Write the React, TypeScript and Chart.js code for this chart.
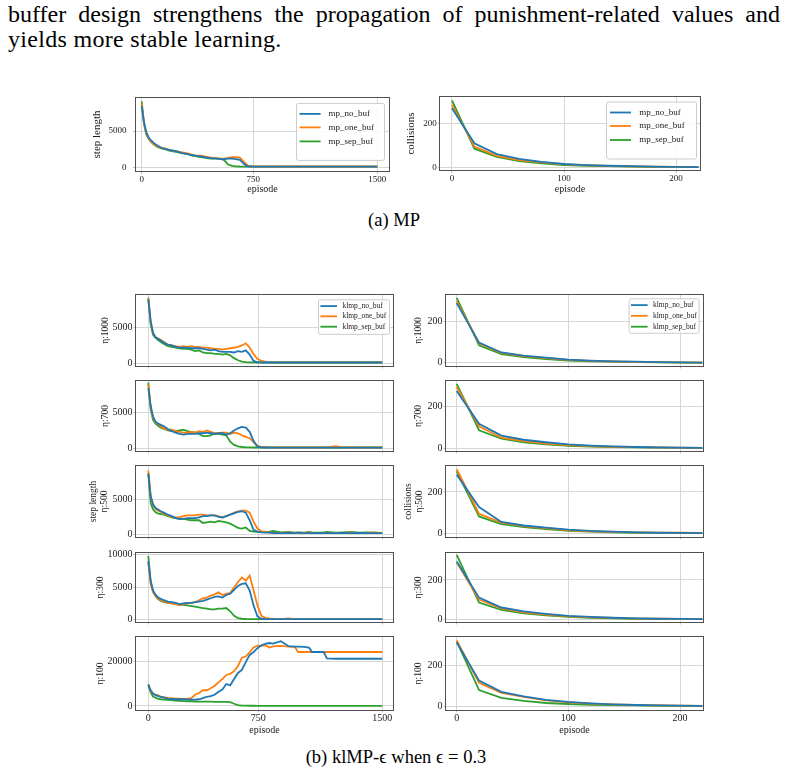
import React, { useEffect, useRef } from "react";
import { Chart, registerables } from "chart.js";
Chart.register(...registerables);

const SERIF = '"Liberation Serif", "Times New Roman", serif';
const COLORS = ["#1f77b4", "#ff7f0e", "#2ca02c"];
const GRID = "#d6d6d6";
const TICKC = "#c0c0c0";
const FRAME = "#505050";
const TXT = "#1a1a1a";

// ---------- data ----------
const EPISODES = [0, 15, 30, 45, 60, 80, 100, 125, 150, 175, 200, 225, 250, 275, 300, 325, 350, 375, 400, 425, 450, 475, 500, 525, 550, 575, 600, 625, 650, 675, 700, 725, 750, 775, 800, 850, 900, 940, 960, 1000, 1030, 1050, 1100, 1125, 1145, 1200, 1250, 1300, 1350, 1400, 1450, 1500];
const EPISODES_COLL = [0, 20, 40, 60, 80, 100, 120, 140, 160, 180, 200, 220];
const STEP_TICKS_A = [0, 710, 1500];
const STEP_TICKS_B = [0, 705, 1500];
const STEP_TICK_LABELS = ["0", "750", "1500"];
const COLL_TICKS = [0, 100, 200];
const COLL_TICK_LABELS = ["0", "100", "200"];
const MP_LABELS = ["mp_no_buf", "mp_one_buf", "mp_sep_buf"];
const KLMP_LABELS = ["klmp_no_buf", "klmp_one_buf", "klmp_sep_buf"];

const MP_NO_STEP = [8500, 6200, 4800, 4100, 3700, 3300, 3000, 2700, 2500, 2400, 2300, 2200, 2000, 1900, 1800, 1700, 1600, 1500, 1400, 1300, 1250, 1250, 1150, 1150, 1200, 1200, 1150, 1050, 500, 150, 120, 110, 110, 110, 110, 110, 110, 110, 110, 110, 110, 110, 110, 110, 110, 110, 110, 110, 110, 110, 110, 110];
const MP_ONE_STEP = [8800, 6000, 4600, 4000, 3500, 3100, 2900, 2700, 2600, 2400, 2300, 2200, 2100, 2000, 1900, 1700, 1600, 1600, 1500, 1400, 1300, 1250, 1200, 1200, 1300, 1400, 1400, 1350, 800, 250, 150, 130, 120, 120, 120, 120, 120, 120, 120, 120, 120, 120, 120, 120, 120, 120, 120, 120, 120, 120, 120, 120];
const MP_SEP_STEP = [9100, 6000, 4500, 3900, 3500, 3100, 2800, 2600, 2500, 2300, 2200, 2100, 2000, 1900, 1800, 1600, 1500, 1400, 1350, 1250, 1200, 1200, 1200, 1000, 400, 200, 150, 120, 110, 110, 100, 100, 100, 100, 100, 100, 100, 100, 100, 100, 100, 100, 100, 100, 100, 100, 100, 100, 100, 100, 100, 100];
const MP_NO_COLL = [270, 110, 60, 38, 25, 15, 10, 7, 5, 3, 2, 1];
const MP_ONE_COLL = [285, 95, 52, 33, 22, 13, 9, 6, 4, 3, 2, 1];
const MP_SEP_COLL = [305, 85, 48, 28, 18, 10, 7, 5, 3, 2, 1, 1];

const K1000_NO = [9000, 6000, 4300, 3700, 3500, 3200, 2900, 2600, 2500, 2300, 2200, 2200, 2200, 2100, 2100, 2100, 2000, 1900, 1800, 1900, 1700, 1600, 1600, 1600, 1500, 1700, 1600, 1800, 1200, 300, 110, 90, 80, 80, 80, 80, 80, 80, 80, 80, 80, 80, 80, 80, 80, 80, 80, 80, 80, 80, 80, 80];
const K1000_ONE = [9200, 5800, 4200, 3700, 3500, 3300, 3000, 2600, 2500, 2400, 2300, 2400, 2300, 2400, 2300, 2300, 2200, 2200, 2100, 2000, 2000, 1900, 2000, 2100, 2200, 2300, 2500, 2800, 2200, 1260, 560, 330, 180, 120, 100, 90, 90, 90, 90, 90, 90, 90, 90, 90, 90, 90, 90, 90, 90, 90, 90, 90];
const K1000_SEP = [9300, 5500, 4000, 3600, 3300, 3000, 2700, 2400, 2300, 2200, 2100, 2000, 2000, 1900, 1700, 1800, 1500, 1400, 1400, 1300, 1300, 1200, 1300, 1100, 700, 400, 200, 120, 100, 90, 80, 80, 80, 80, 80, 80, 80, 80, 80, 80, 80, 80, 80, 80, 80, 80, 80, 80, 80, 80, 80, 80];

const K700_NO = [8500, 6000, 4500, 3800, 3500, 3300, 3100, 2700, 2400, 2200, 2000, 1900, 2000, 2000, 2000, 2100, 2100, 2200, 2100, 2000, 2100, 2100, 1900, 2100, 2500, 2800, 3000, 2900, 2300, 1000, 200, 100, 80, 70, 70, 70, 70, 70, 70, 70, 70, 70, 70, 70, 70, 70, 70, 70, 70, 70, 70, 70];
const K700_ONE = [9000, 5800, 4300, 3700, 3400, 3100, 2800, 2600, 2600, 2400, 2300, 2200, 2200, 2300, 2200, 2400, 2300, 2500, 2300, 2100, 2100, 2200, 2200, 2000, 2200, 2100, 1800, 1600, 1400, 800, 300, 150, 100, 90, 80, 80, 80, 80, 80, 80, 80, 80, 80, 80, 80, 250, 80, 80, 80, 80, 80, 80];
const K700_SEP = [9300, 5500, 4000, 3500, 3200, 2900, 2700, 2500, 2400, 2400, 2500, 2600, 2400, 2300, 2200, 2000, 1700, 1700, 1800, 2100, 2000, 1900, 1800, 900, 450, 250, 150, 100, 90, 80, 80, 80, 80, 80, 80, 80, 80, 80, 80, 80, 80, 80, 80, 80, 80, 80, 80, 80, 80, 80, 80, 80];

const K500_NO = [8800, 5500, 4300, 3800, 3600, 3300, 3100, 2800, 2600, 2300, 2200, 2200, 2300, 2300, 2300, 2400, 2600, 2600, 2700, 2700, 2500, 2400, 2600, 2800, 3000, 3200, 3300, 3100, 2000, 600, 350, 250, 200, 200, 150, 120, 150, 120, 200, 120, 130, 120, 150, 120, 130, 120, 150, 120, 180, 120, 130, 120];
const K500_ONE = [9200, 5500, 4200, 3700, 3400, 3200, 3000, 2700, 2500, 2400, 2400, 2600, 2700, 2700, 2700, 2800, 2800, 2700, 2700, 2700, 2600, 2400, 2600, 2800, 3100, 3300, 3400, 3400, 3100, 1800, 800, 400, 300, 250, 200, 150, 250, 120, 150, 120, 250, 120, 120, 150, 120, 150, 120, 250, 120, 150, 250, 120];
const K500_SEP = [8700, 4500, 3600, 3200, 3000, 2900, 2800, 2600, 2400, 2300, 2200, 2200, 2100, 2000, 2000, 2000, 1600, 1700, 1800, 1700, 1900, 1800, 1700, 1500, 1200, 900, 800, 950, 450, 350, 300, 300, 280, 350, 450, 250, 300, 200, 250, 200, 300, 250, 200, 250, 300, 200, 250, 300, 200, 250, 200, 150];

const K300_NO = [9000, 6000, 4500, 3900, 3500, 3200, 3000, 2800, 2700, 2600, 2400, 2500, 2600, 2600, 2700, 2800, 2900, 3100, 3300, 3500, 3600, 3400, 3800, 4000, 4600, 5200, 5500, 5600, 4500, 2200, 500, 150, 100, 90, 80, 80, 80, 80, 80, 80, 80, 80, 80, 80, 80, 80, 80, 80, 80, 80, 80, 80];
const K300_ONE = [8800, 5500, 4300, 3700, 3300, 3000, 2800, 2600, 2500, 2400, 2300, 2400, 2500, 2600, 2700, 3000, 3300, 3400, 3700, 3900, 4200, 3800, 4000, 4100, 5000, 5800, 6500, 6000, 6800, 4500, 2200, 600, 300, 200, 150, 100, 200, 90, 90, 90, 90, 90, 90, 90, 90, 90, 90, 90, 90, 90, 90, 90];
const K300_SEP = [9800, 5800, 4300, 3700, 3200, 2900, 2700, 2600, 2500, 2400, 2300, 2300, 2200, 2100, 2000, 1900, 1800, 1700, 1600, 1600, 1700, 1700, 1800, 1300, 600, 250, 150, 110, 100, 90, 80, 80, 80, 80, 80, 80, 80, 80, 80, 80, 80, 80, 80, 80, 80, 80, 80, 80, 80, 80, 80, 80];

const K100_NO = [9500, 7000, 5500, 4800, 4500, 4000, 3700, 3300, 3100, 3000, 3000, 3000, 2900, 2800, 2800, 3000, 3500, 4100, 4400, 5000, 6300, 7300, 9800, 9200, 12000, 14700, 16000, 19500, 22700, 24000, 25700, 27000, 27600, 28000, 27700, 28800, 26600, 26400, 26400, 26300, 26000, 24000, 24000, 24000, 21200, 21000, 21000, 21000, 21000, 21000, 21000, 21000];
const K100_ONE = [9500, 6500, 5500, 5000, 4800, 4200, 3900, 3600, 3500, 3300, 3300, 3200, 3300, 3500, 5000, 5800, 7000, 7000, 7900, 8900, 10500, 12000, 13800, 14300, 15500, 17800, 21500, 22000, 24000, 26000, 26800, 26700, 27000, 26000, 26500, 26700, 26400, 26300, 24000, 24000, 24000, 24000, 24000, 24000, 24000, 24000, 24000, 24000, 24000, 24000, 24000, 24000];
const K100_SEP = [9500, 6000, 4200, 3700, 3300, 3000, 2800, 2700, 2600, 2400, 2300, 2200, 2100, 2100, 2000, 1900, 1900, 1900, 1900, 1800, 1800, 1800, 1800, 1700, 1000, 400, 200, 150, 120, 100, 90, 80, 80, 80, 80, 80, 80, 80, 80, 80, 80, 80, 80, 80, 80, 80, 80, 80, 80, 80, 80, 80];

const C1000_NO = [290, 98, 50, 35, 25, 15, 10, 7, 5, 3, 2, 1];
const C1000_ONE = [300, 95, 48, 32, 22, 14, 9, 6, 4, 3, 2, 1];
const C1000_SEP = [315, 85, 42, 28, 18, 11, 7, 5, 3, 2, 1, 1];
const C700_NO = [276, 117, 60, 40, 28, 18, 12, 8, 5, 3, 2, 1];
const C700_ONE = [295, 105, 50, 33, 22, 14, 9, 6, 4, 3, 2, 1];
const C700_SEP = [310, 86, 45, 28, 18, 11, 7, 5, 3, 2, 1, 1];
const C500_NO = [283, 127, 55, 38, 28, 18, 12, 8, 5, 3, 2, 1];
const C500_ONE = [310, 95, 52, 35, 25, 15, 10, 7, 5, 4, 3, 2];
const C500_SEP = [300, 82, 45, 30, 20, 12, 8, 5, 3, 2, 1, 1];
const C300_NO = [293, 110, 60, 40, 28, 18, 12, 8, 5, 3, 2, 1];
const C300_ONE = [290, 100, 55, 35, 24, 15, 10, 7, 4, 3, 2, 1];
const C300_SEP = [327, 85, 48, 30, 20, 12, 8, 5, 3, 2, 1, 1];
const C100_NO = [315, 126, 70, 48, 30, 20, 13, 8, 5, 3, 2, 1];
const C100_ONE = [325, 115, 65, 45, 28, 18, 12, 8, 5, 3, 2, 1];
const C100_SEP = [320, 79, 40, 25, 15, 10, 6, 4, 3, 2, 1, 1];

// ---------- panel config ----------
type Legend = { w: number; h: number; dx: number; dy: number; rows: number[]; swX: number; swL: number; txX: number; size: number };
type Panel = {
  key: string;
  box: [number, number, number, number];
  canvasLeft: number;
  canvasBottom: number;
  x: number[];
  series: number[][];
  labels: string[];
  xMin: number; xMax: number; xTicks: number[]; xTickLabels: string[]; showX: boolean;
  yMin: number; yMax: number; yTicks: number[];
  yTitle: string[]; yTitleX: number;
  tickSize: number; xTitleSize: number; yTitleSize: number; yTitleLH: number;
  yTickLen: number; yTickPad: number; xTickLen: number; xTickPad: number;
  legend: Legend | null;
};

const LEG_A_L: Legend = { w: 88, h: 57, dx: 5, dy: 5, rows: [11, 24.5, 38.5], swX: 3.6, swL: 21, txX: 32.6, size: 9 };
const LEG_A_R: Legend = { w: 90, h: 57, dx: 4, dy: 4.5, rows: [11, 24.5, 38.5], swX: 4, swL: 21, txX: 33.3, size: 9 };
const LEG_B_L: Legend = { w: 71, h: 34.5, dx: 4, dy: 4.3, rows: [6.8, 17, 27.4], swX: 2.4, swL: 16.6, txX: 24.4, size: 7.5 };
const LEG_B_R: Legend = { w: 70, h: 34.5, dx: 4.4, dy: 3.3, rows: [6.8, 17.5, 28.4], swX: 2.4, swL: 16.6, txX: 24.4, size: 7.5 };

function leftB(key: string, top: number, bottom: number, series: number[][], yMin: number, yMax: number, yTicks: number[], yTitle: string[], yTitleX: number, last: boolean, legend: Legend | null): Panel {
  return {
    key, box: [136, top, 393, bottom], canvasLeft: 80, canvasBottom: last ? 736 : bottom + 6,
    x: EPISODES, series, labels: KLMP_LABELS,
    xMin: -79, xMax: 1569, xTicks: STEP_TICKS_B, xTickLabels: STEP_TICK_LABELS, showX: last,
    yMin, yMax, yTicks, yTitle, yTitleX,
    tickSize: 10, xTitleSize: 10, yTitleSize: 9.5, yTitleLH: 11,
    yTickLen: 2.5, yTickPad: 1, xTickLen: 2.5, xTickPad: 0, legend,
  };
}
function rightB(key: string, top: number, bottom: number, series: number[][], yMin: number, yMax: number, yTitle: string[], yTitleX: number, last: boolean, legend: Legend | null): Panel {
  return {
    key, box: [446, top, 703, bottom], canvasLeft: 395, canvasBottom: last ? 736 : bottom + 6,
    x: EPISODES_COLL, series, labels: KLMP_LABELS,
    xMin: -9.6, xMax: 220.6, xTicks: COLL_TICKS, xTickLabels: COLL_TICK_LABELS, showX: last,
    yMin, yMax, yTicks: [0, 200], yTitle, yTitleX,
    tickSize: 10, xTitleSize: 10, yTitleSize: 9.5, yTitleLH: 11,
    yTickLen: 2.5, yTickPad: 1, xTickLen: 2.5, xTickPad: 0, legend,
  };
}

const PANELS: Panel[] = [
  {
    key: "a-step", box: [136, 96, 389, 171], canvasLeft: 85, canvasBottom: 195,
    x: EPISODES, series: [MP_NO_STEP, MP_ONE_STEP, MP_SEP_STEP], labels: MP_LABELS,
    xMin: -36, xMax: 1574, xTicks: STEP_TICKS_A, xTickLabels: STEP_TICK_LABELS, showX: true,
    yMin: -496, yMax: 9558, yTicks: [0, 5000], yTitle: ["step length"], yTitleX: 97.5,
    tickSize: 9, xTitleSize: 10, yTitleSize: 11, yTitleLH: 13,
    yTickLen: 3, yTickPad: 6.5, xTickLen: 3, xTickPad: 0, legend: LEG_A_L,
  },
  {
    key: "a-coll", box: [440, 97, 700, 170], canvasLeft: 395, canvasBottom: 195,
    x: EPISODES_COLL, series: [MP_NO_COLL, MP_ONE_COLL, MP_SEP_COLL], labels: MP_LABELS,
    xMin: -10.7, xMax: 221.4, xTicks: COLL_TICKS, xTickLabels: COLL_TICK_LABELS, showX: true,
    yMin: -12.4, yMax: 321, yTicks: [0, 200], yTitle: ["collisions"], yTitleX: 411,
    tickSize: 9, xTitleSize: 10, yTitleSize: 11, yTitleLH: 13,
    yTickLen: 2, yTickPad: 1.3, xTickLen: 3, xTickPad: 0, legend: LEG_A_R,
  },
  leftB("b1", 295, 367, [K1000_NO, K1000_ONE, K1000_SEP], -420, 9664, [0, 5000], ["η:1000"], 105.5, false, LEG_B_L),
  leftB("b2", 381, 452, [K700_NO, K700_ONE, K700_SEP], -420, 9524, [0, 5000], ["η:700"], 105.5, false, null),
  leftB("b3", 466, 538, [K500_NO, K500_ONE, K500_SEP], -429, 9857, [0, 5000], ["step length", "η:500"], 93, false, null),
  leftB("b4", 553, 623, [K300_NO, K300_ONE, K300_SEP], -350, 10260, [0, 5000, 10000], ["η:300"], 100.5, false, null),
  leftB("b5", 637, 710, [K100_NO, K100_ONE, K100_SEP], -1780, 30670, [0, 20000], ["η:100"], 100.5, true, null),
  rightB("c1", 295, 367, [C1000_NO, C1000_ONE, C1000_SEP], -15.8, 329.5, ["η:1000"], 418, false, LEG_B_R),
  rightB("c2", 381, 452, [C700_NO, C700_ONE, C700_SEP], -14.3, 323.8, ["η:700"], 418, false, null),
  rightB("c3", 466, 538, [C500_NO, C500_ONE, C500_SEP], -17.6, 325.7, ["collisions", "η:500"], 408, false, null),
  rightB("c4", 553, 623, [C300_NO, C300_ONE, C300_SEP], -13.5, 336.5, ["η:300"], 418, false, null),
  rightB("c5", 637, 710, [C100_NO, C100_ONE, C100_SEP], -19.8, 342, ["η:100"], 418, true, null),
];

// ---------- plugins ----------
const framePlugin = {
  id: "frame",
  afterDatasetsDraw(chart: any) {
    const { ctx, chartArea: a } = chart;
    ctx.save();
    ctx.strokeStyle = FRAME;
    ctx.lineWidth = 1;
    ctx.strokeRect(Math.round(a.left) - 0.5, Math.round(a.top) - 0.5, Math.round(a.right - a.left) + 1, Math.round(a.bottom - a.top) + 1);
    ctx.restore();
  },
};

function legendPlugin(p: Panel) {
  return {
    id: "boxLegend",
    afterDraw(chart: any) {
      const L = p.legend;
      if (!L) return;
      const { ctx, chartArea: a } = chart;
      const x0 = a.right - L.dx - L.w;
      const y0 = a.top + L.dy;
      ctx.save();
      ctx.beginPath();
      ctx.roundRect(x0 + 0.5, y0 + 0.5, L.w, L.h, 2);
      ctx.fillStyle = "rgba(255,255,255,0.85)";
      ctx.fill();
      ctx.strokeStyle = "#cccccc";
      ctx.lineWidth = 1;
      ctx.stroke();
      ctx.font = `${L.size}px ${SERIF}`;
      ctx.textBaseline = "middle";
      ctx.textAlign = "left";
      chart.data.datasets.forEach((ds: any, i: number) => {
        const ry = y0 + L.rows[i];
        ctx.beginPath();
        ctx.strokeStyle = ds.borderColor;
        ctx.lineWidth = 1.8;
        ctx.moveTo(x0 + L.swX, ry);
        ctx.lineTo(x0 + L.swX + L.swL, ry);
        ctx.stroke();
        ctx.fillStyle = TXT;
        ctx.fillText(ds.label, x0 + L.txX, ry);
      });
      ctx.restore();
    },
  };
}

function PanelChart({ p }: { p: Panel }) {
  const ref = useRef<HTMLCanvasElement>(null);
  const [l, t, r, b] = p.box;
  const cTop = t - 10;
  const cw = r + 8 - p.canvasLeft;
  const ch = p.canvasBottom - cTop;
  useEffect(() => {
    const chart = new Chart(ref.current as HTMLCanvasElement, {
      type: "line",
      data: {
        datasets: p.series.map((s, i) => ({
          label: p.labels[i],
          data: p.x.map((xv, j) => ({ x: xv, y: s[j] })),
          borderColor: COLORS[i],
          backgroundColor: COLORS[i],
          borderWidth: 1.8,
          pointRadius: 0,
          fill: false,
          tension: 0,
        })),
      },
      options: {
        animation: false,
        responsive: false,
        maintainAspectRatio: false,
        layout: { padding: { top: 10, right: 8, left: 0, bottom: 0 } },
        plugins: { legend: { display: false }, tooltip: { enabled: false } },
        scales: {
          x: {
            type: "linear",
            min: p.xMin,
            max: p.xMax,
            afterBuildTicks: (s: any) => { s.ticks = p.xTicks.map((v) => ({ value: v })); },
            afterFit: (s: any) => { s.height = p.canvasBottom - b; },
            ticks: {
              display: p.showX,
              autoSkip: false,
              maxRotation: 0,
              padding: p.xTickPad,
              color: TXT,
              font: { family: SERIF, size: p.tickSize },
              callback: (_v: any, i: number) => p.xTickLabels[i],
            },
            grid: { color: GRID, lineWidth: 1, drawTicks: true, tickLength: p.xTickLen, tickColor: TICKC },
            border: { display: false },
            title: { display: p.showX, text: "episode", color: TXT, padding: 0, font: { family: SERIF, size: p.xTitleSize, lineHeight: 1.2 } },
          },
          y: {
            type: "linear",
            min: p.yMin,
            max: p.yMax,
            afterBuildTicks: (s: any) => { s.ticks = p.yTicks.map((v) => ({ value: v })); },
            afterFit: (s: any) => { s.width = l - p.canvasLeft; },
            ticks: {
              padding: p.yTickPad,
              color: TXT,
              font: { family: SERIF, size: p.tickSize },
              callback: (v: any) => String(v),
            },
            grid: { color: GRID, lineWidth: 1, drawTicks: true, tickLength: p.yTickLen, tickColor: TICKC },
            border: { display: false },
            title: {
              display: true,
              text: p.yTitle.length > 1 ? p.yTitle : p.yTitle[0],
              color: TXT,
              padding: { top: p.yTitleX - p.canvasLeft - p.yTitleLH / 2, bottom: 0 },
              font: { family: SERIF, size: p.yTitleSize, lineHeight: `${p.yTitleLH}px` },
            },
          },
        },
      } as any,
      plugins: [framePlugin, legendPlugin(p)],
    });
    return () => chart.destroy();
  }, []);
  return (
    <canvas
      ref={ref}
      width={cw}
      height={ch}
      style={{ position: "absolute", left: p.canvasLeft, top: cTop, width: cw, height: ch }}
    />
  );
}

export default function App() {
  const lineStyle: React.CSSProperties = {
    position: "absolute",
    left: 8,
    width: 772,
    fontFamily: SERIF,
    fontSize: 24,
    lineHeight: "25px",
    color: "#000",
    whiteSpace: "nowrap",
  };
  const capStyle: React.CSSProperties = {
    position: "absolute",
    left: 0,
    width: 788,
    textAlign: "center",
    fontFamily: SERIF,
    fontSize: 18.5,
    lineHeight: "20px",
    color: "#000",
  };
  return (
    <div style={{ position: "absolute", left: 0, top: 0, width: 788, height: 774, overflow: "hidden", background: "#fff" }}>
      <div style={{ ...lineStyle, top: 1.5, whiteSpace: "normal", textAlign: "justify", textAlignLast: "justify" } as React.CSSProperties}>
        buffer design strengthens the propagation of punishment-related values and
      </div>
      <div style={{ ...lineStyle, top: 26.5, letterSpacing: 0.3 }}>yields more stable learning.</div>
      {PANELS.map((p) => (
        <PanelChart key={p.key} p={p} />
      ))}
      <div style={{ ...capStyle, top: 210 }}>(a) MP</div>
      <div style={{ ...capStyle, top: 746.5, left: 2 }}>(b) klMP-ϵ when ϵ = 0.3</div>
    </div>
  );
}
